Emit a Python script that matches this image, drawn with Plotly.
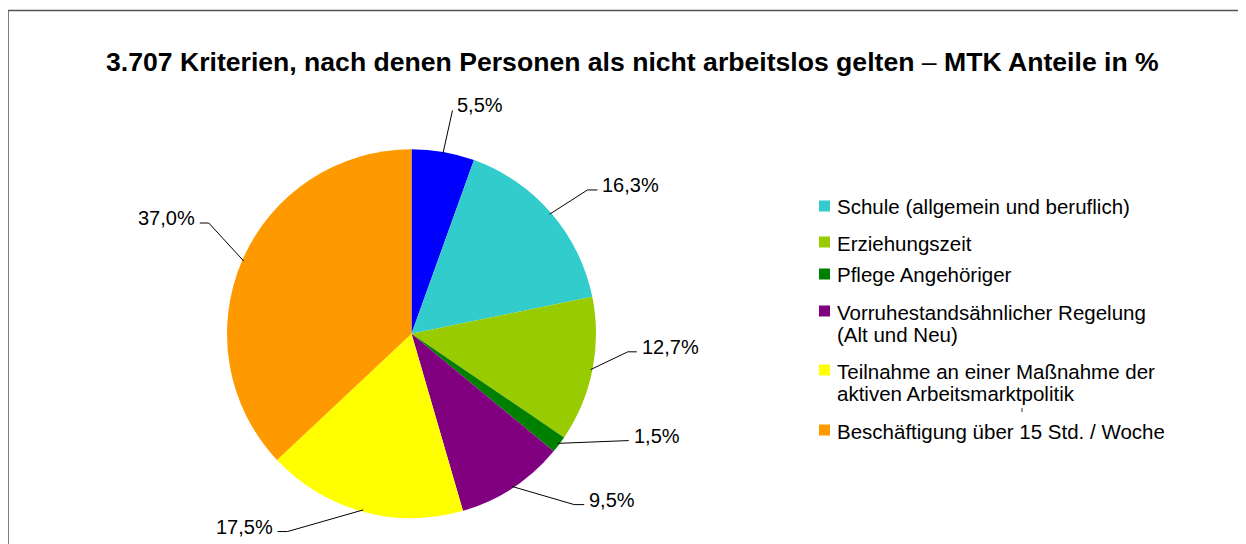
import math
import plotly.graph_objects as go

# ---------------- data ----------------
categories = [
    "Arbeitsunfähigkeit",
    "Schule (allgemein und beruflich)",
    "Erziehungszeit",
    "Pflege Angehöriger",
    "Vorruhestandsähnlicher Regelung (Alt und Neu)",
    "Teilnahme an einer Maßnahme der aktiven Arbeitsmarktpolitik",
    "Beschäftigung über 15 Std. / Woche",
]
shares = [5.5, 16.3, 12.7, 1.5, 9.5, 17.5, 37.0]
legend_lines = [
    None,
    ["Schule (allgemein und beruflich)"],
    ["Erziehungszeit"],
    ["Pflege Angehöriger"],
    ["Vorruhestandsähnlicher Regelung", "(Alt und Neu)"],
    ["Teilnahme an einer Maßnahme der", "aktiven Arbeitsmarktpolitik"],
    ["Beschäftigung über 15 Std. / Woche"],
]
title_text = "<b>3.707 Kriterien, nach denen Personen als nicht arbeitslos gelten</b> – <b>MTK Anteile in %</b>"

# ---------------- style / layout ----------------
colors = ["#0000FF", "#33CCCC", "#99CC00", "#008000", "#800080", "#FFFF00", "#FF9900"]
W, H = 1246, 544
OFF = 8                                   # page body margin in the browser
FONT = "Liberation Sans, Arial, sans-serif"
cx, cy, R = 411.5, 333.7, 184.5          # pie centre / radius in screen px
label_angle = [10.4, 52.3, 94.6, 116.2, 134.7, 214.1, 297.6]   # deg clockwise from top
label_rfac = [1.23, 1.274, 1.225, 1.312, 1.317, 1.295, 1.295]
elbow = [0, 10, 9, 0, 10, 10, 9]
legend_y = [None, 206, 242, 274, 311, 370, 430]
legend_line_gap = 22.5
legend_marker_x, legend_text_x = 824.5, 835


def px(x):
    return (x - OFF) / W


def py(y):
    return 1 - (y - OFF) / H


fig = go.Figure()
fig.add_trace(go.Pie(
    labels=categories, values=shares, sort=False, direction="clockwise", rotation=0,
    marker=dict(colors=colors, line=dict(width=0)),
    textinfo="none", hoverinfo="label+percent", showlegend=False,
    domain=dict(x=[px(cx - R), px(cx + R)], y=[py(cy + R), py(cy - R)]),
))

annotations = []
shapes = []

# data labels with leader lines, computed from the values
total = sum(shares)
start = 0.0
for i, v in enumerate(shares):
    mid = (start + v / 2) / total * 360.0
    start += v
    a0 = math.radians(mid)
    x0, y0 = cx + 0.99 * R * math.sin(a0), cy - 0.99 * R * math.cos(a0)
    a1 = math.radians(label_angle[i])
    rl = label_rfac[i] * R
    x1, y1 = cx + rl * math.sin(a1), cy - rl * math.cos(a1)
    right = x1 >= cx
    xe = x1 - elbow[i] if right else x1 + elbow[i]
    shapes.append(dict(type="path", xref="paper", yref="paper",
                       path=f"M {px(x0)},{py(y0)} L {px(xe)},{py(y1)} L {px(x1)},{py(y1)}",
                       line=dict(color="black", width=1)))
    lab = f"{v:.1f}".replace(".", ",") + "%"
    annotations.append(dict(
        x=px(x1 + 3 if right else x1 - 3), y=py(y1 - 5), xref="paper", yref="paper",
        text=lab, showarrow=False, xanchor="left" if right else "right", yanchor="middle",
        font=dict(family=FONT, size=20, color="black")))

# custom legend
for i, lines in enumerate(legend_lines):
    if not lines:
        continue
    y0 = legend_y[i]
    shapes.append(dict(type="rect", xref="paper", yref="paper",
                       x0=px(legend_marker_x - 5.5), x1=px(legend_marker_x + 5.5),
                       y0=py(y0 - 5.5), y1=py(y0 + 5.5),
                       fillcolor=colors[i], line=dict(width=0)))
    for k, t in enumerate(lines):
        annotations.append(dict(
            x=px(legend_text_x), y=py(y0 + k * legend_line_gap + 1), xref="paper", yref="paper",
            text=t, showarrow=False, xanchor="left", yanchor="middle",
            font=dict(family=FONT, size=20.5, color="black")))

# title
annotations.append(dict(x=px(632), y=py(62), xref="paper", yref="paper", text=title_text,
                        showarrow=False, xanchor="center", yanchor="middle",
                        font=dict(family=FONT, size=26.6, color="black")))

# chart border (left + top edges visible)
shapes.append(dict(type="path", xref="paper", yref="paper",
                   path=f"M {px(8)},{py(570)} L {px(8)},{py(10.5)} L {px(1270)},{py(10.5)}",
                   line=dict(color="#555555", width=1.5)))
# small artefact tick
shapes.append(dict(type="line", xref="paper", yref="paper",
                   x0=px(1022), x1=px(1022), y0=py(408), y1=py(412),
                   line=dict(color="#333333", width=1)))

fig.update_layout(
    width=W, height=H, margin=dict(l=0, r=0, t=0, b=0),
    paper_bgcolor="white", plot_bgcolor="white",
    annotations=annotations, shapes=shapes, showlegend=False,
)
fig.write_html("out.html")
